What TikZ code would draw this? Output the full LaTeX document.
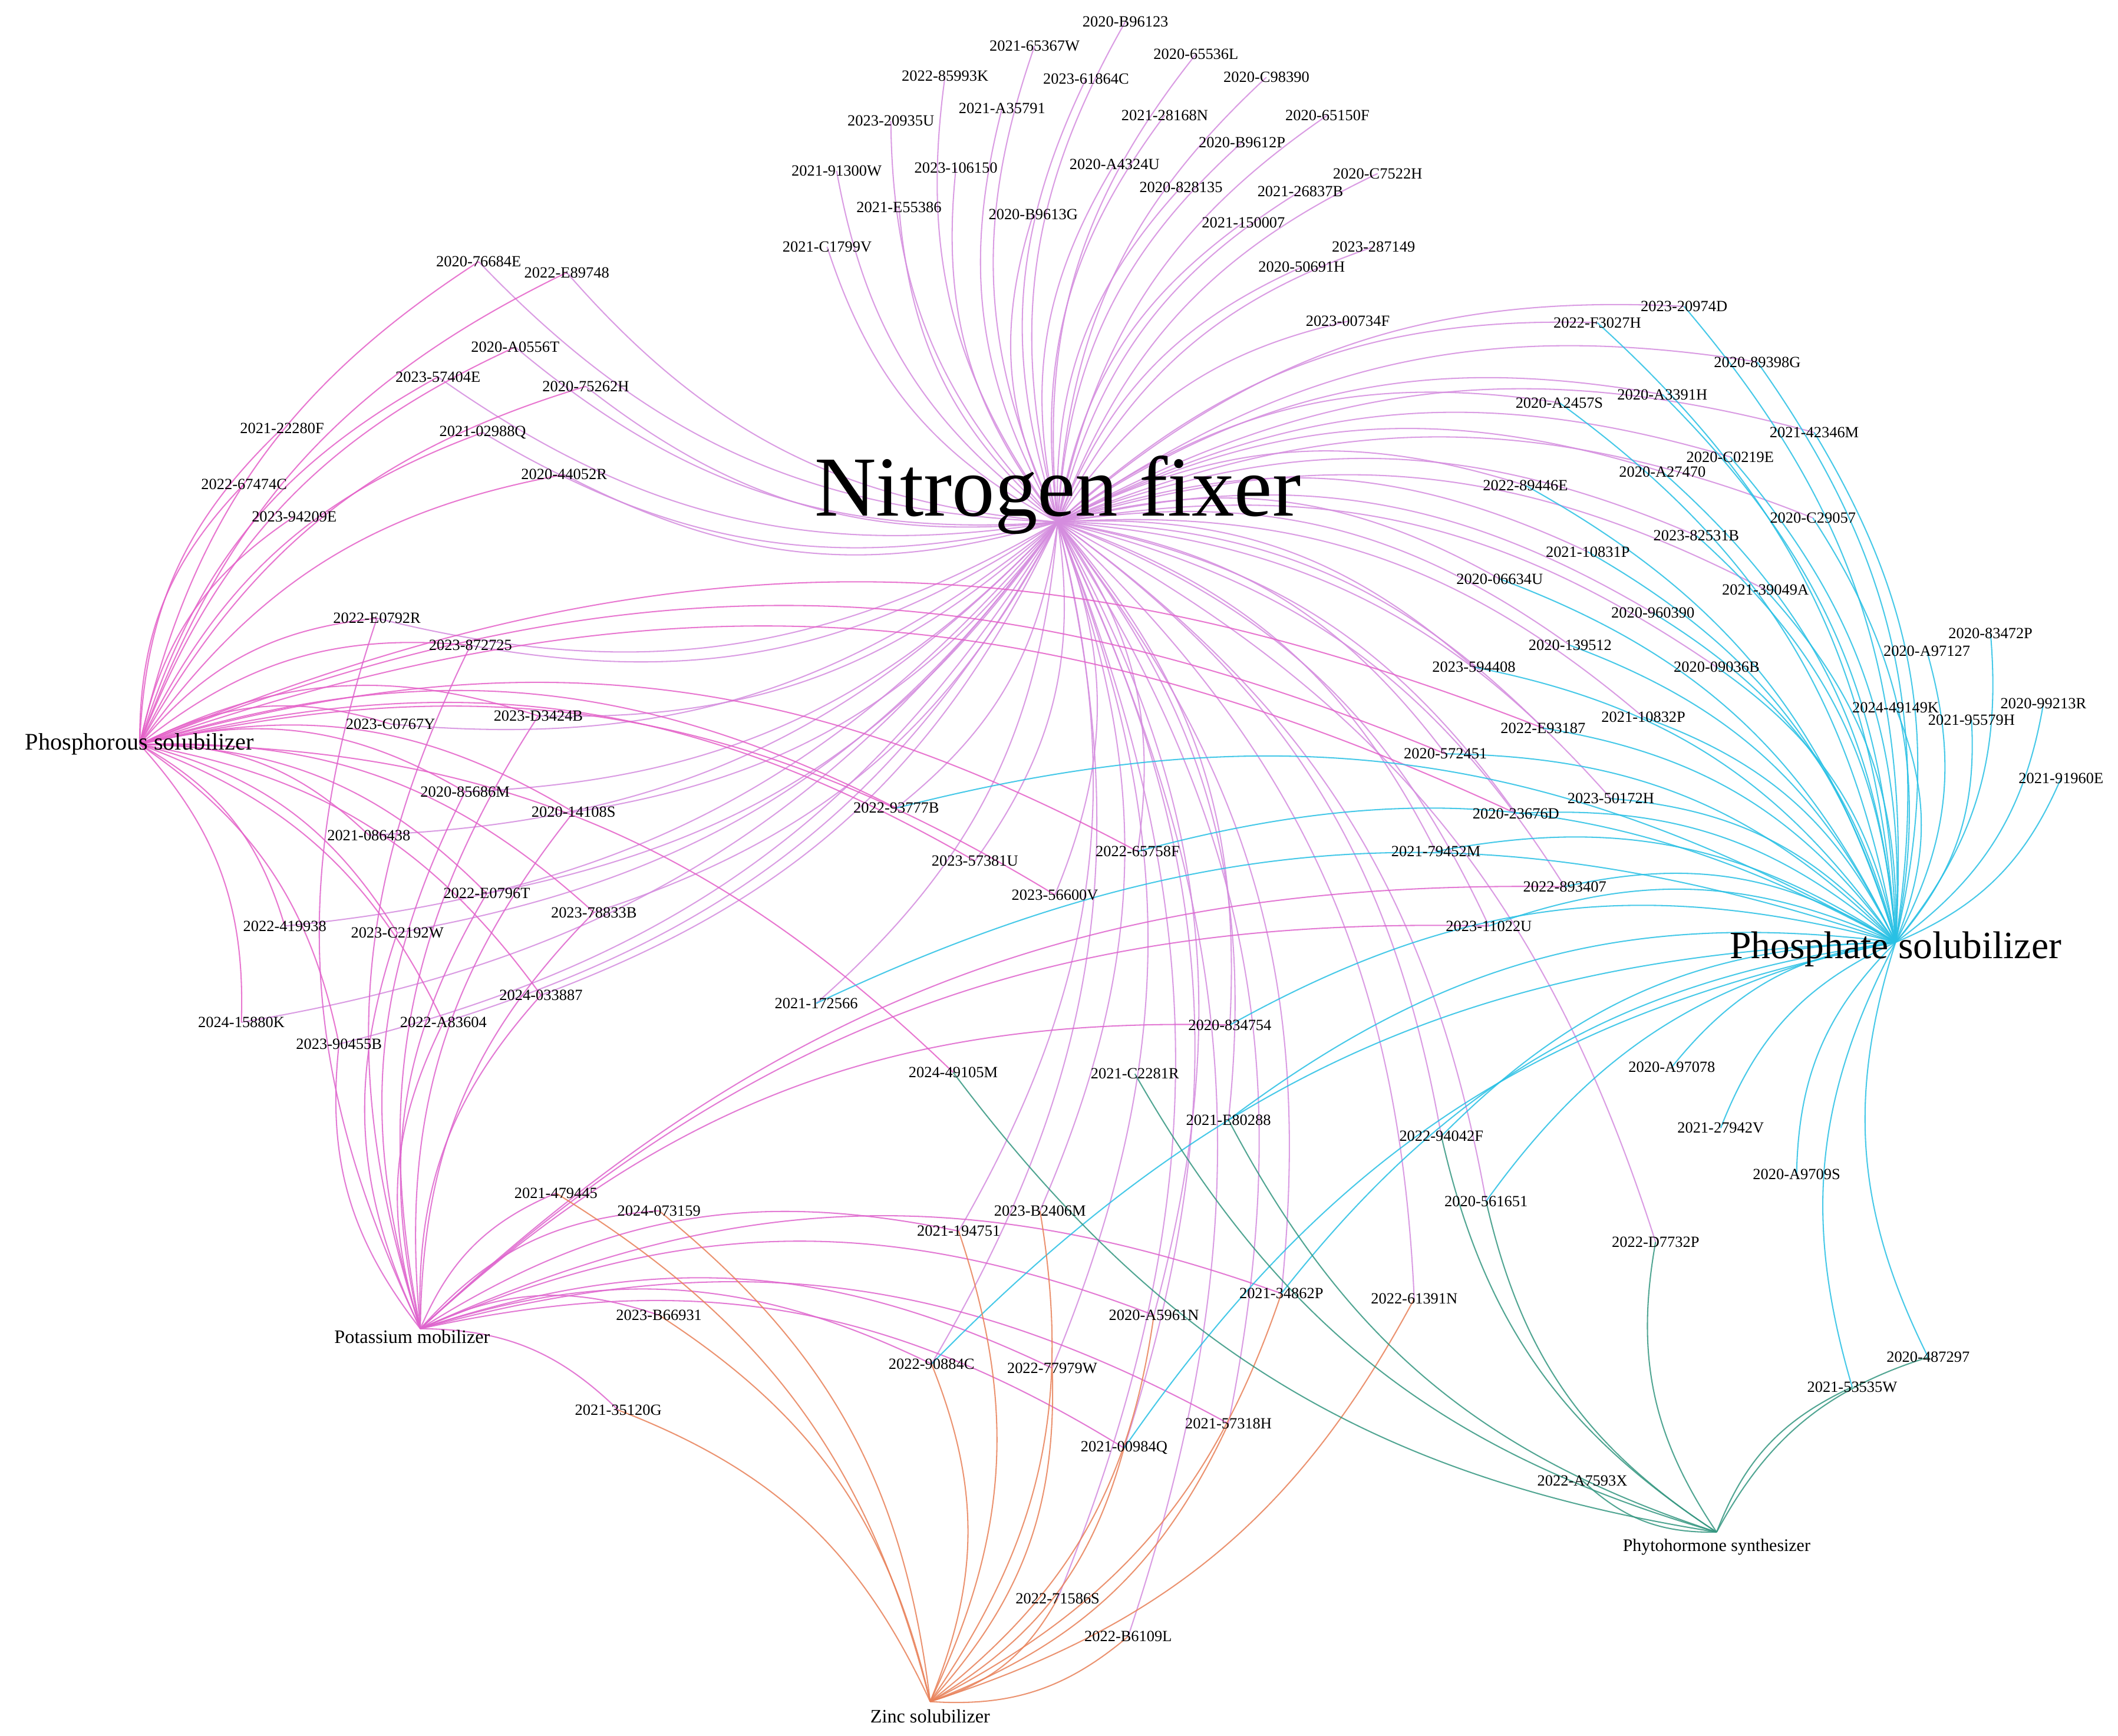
\documentclass[tikz,border=0pt]{standalone}
\usepackage{fontspec}
\setmainfont{Liberation Serif}
\begin{document}
\begin{tikzpicture}[x=0.1pt,y=-0.1pt,
 e/.style={line width=0.09pt,opacity=0.85},
 nf/.style={e,draw={rgb,255:red,212;green,140;blue,222}},
 ps/.style={e,draw={rgb,255:red,228;green,96;blue,200}},
 km/.style={e,draw={rgb,255:red,222;green,100;blue,205}},
 ph/.style={e,draw={rgb,255:red,40;green,192;blue,228}},
 zn/.style={e,draw={rgb,255:red,232;green,128;blue,88}},
 hy/.style={e,draw={rgb,255:red,52;green,150;blue,128}},
 lbl/.style={font=\fontsize{1.15}{1.3}\selectfont,inner sep=0pt},
 hub/.style={inner sep=0pt}]
\useasboundingbox (0,0) rectangle (1562,1280);
\coordinate (N) at (780,385);
\coordinate (PS) at (103,549);
\coordinate (PH) at (1398,695);
\coordinate (K) at (310,980);
\coordinate (ZN) at (686,1255);
\coordinate (HY) at (1266,1130);
\def\leaves{t1/830/16/2020-B96123,t2/763/34/2021-65367W,t3/882/40/2020-65536L,t4/697/56/2022-85993K,t5/801/58/2023-61864C,t6/934/57/2020-C98390,t7/739/80/2021-A35791,t8/657/89/2023-20935U,t9/859/85/2021-28168N,t10/979/85/2020-65150F,t11/916/105/2020-B9612P,t12/617/126/2021-91300W,t13/705/124/2023-106150,t14/822/121/2020-A4324U,t15/871/138/2020-828135,t16/959/141/2021-26837B,t17/1016/128/2020-C7522H,t18/663/153/2021-E55386,t19/762/158/2020-B9613G,t20/917/164/2021-150007,t21/610/182/2021-C1799V,t22/1013/182/2023-287149,t23/960/197/2020-50691H,t24/994/237/2023-00734F,
l1/353/193/2020-76684E,l2/418/201/2022-E89748,l3/380/256/2020-A0556T,l4/323/278/2023-57404E,l5/432/285/2020-75262H,l6/356/319/2021-02988Q,l7/416/350/2020-44052R,
p1/208/316/2021-22280F,p2/180/357/2022-67474C,p3/217/381/2023-94209E,
r1/1242/226/2023-20974D,r2/1178/238/2022-F3027H,r3/1296/267/2020-89398G,r4/1150/297/2020-A2457S,r5/1226/291/2020-A3391H,r6/1338/319/2021-42346M,r7/1276/337/2020-C0219E,r8/1226/348/2020-A27470,r9/1125/358/2022-89446E,r10/1337/382/2020-C29057,r11/1251/395/2023-82531B,r12/1171/407/2021-10831P,r13/1302/435/2021-39049A,r14/1106/427/2020-06634U,r15/1219/452/2020-960390,r16/1158/476/2020-139512,r17/1266/492/2020-09036B,r18/1087/492/2023-594408,
q1/1468/467/2020-83472P,q2/1421/480/2020-A97127,q3/1507/519/2020-99213R,q4/1398/522/2024-49149K,q5/1454/531/2021-95579H,q6/1520/574/2021-91960E,
m1/278/456/2022-E0792R,m2/347/476/2023-872725,m3/288/534/2023-C0767Y,m4/397/528/2023-D3424B,m5/343/584/2020-85686M,m6/423/599/2020-14108S,m7/272/616/2021-086438,m8/359/659/2022-E0796T,m9/438/673/2023-78833B,m10/210/683/2022-419938,m11/293/688/2023-C2192W,m12/399/734/2024-033887,m13/178/754/2024-15880K,m14/250/770/2023-90455B,m15/327/754/2022-A83604,
s1/1138/537/2022-E93187,s2/1212/529/2021-10832P,s3/1066/556/2020-572451,s4/1188/589/2023-50172H,s5/1118/600/2020-23676D,s6/1059/628/2021-79452M,s7/661/596/2022-93777B,s8/839/628/2022-65758F,s9/719/635/2023-57381U,s10/778/660/2023-56600V,
c1/1154/654/2022-893407,c2/1098/683/2023-11022U,c3/602/740/2021-172566,c4/907/756/2020-834754,
h1/703/791/2024-49105M,h2/837/792/2021-C2281R,h3/906/826/2021-E80288,h4/1063/838/2022-94042F,h5/1096/886/2020-561651,h6/1221/916/2022-D7732P,
g1/1233/787/2020-A97078,g2/1269/832/2021-27942V,g3/1325/866/2020-A9709S,g4/1422/1001/2020-487297,g5/1366/1023/2021-53535W,g6/1167/1092/2022-A7593X,
z1/410/880/2021-479445,z2/486/893/2024-073159,z3/486/970/2023-B66931,z4/456/1040/2021-35120G,
y1/707/908/2021-194751,y2/767/893/2023-B2406M,y3/687/1006/2022-90884C,y4/776/1009/2022-77979W,y5/851/970/2020-A5961N,y6/945/954/2021-34862P,y7/829/1068/2021-00984Q,y8/906/1050/2021-57318H,y9/1043/958/2022-61391N,y10/780/1179/2022-71586S,y11/832/1207/2022-B6109L}
\foreach \n/\x/\y/\t in \leaves {\coordinate (\n) at (\x,\y);}
\foreach \n in {t1,t2,t3,t4,t5,t6,t7,t8,t9,t10,t11,t12,t13,t14,t15,t16,t17,t18,t19,t20,t21,t22,t23,t24,l1,l2,l3,l4,l5,l6,l7,r1,r2,r3,r4,r5,r6,r7,r8,r9,r10,r11,r12,r13,r14,r15,r16,r17,r18,m1,m2,m3,m4,m5,m6,m7,m8,m9,m10,m11,m12,m13,m14,m15,s1,s2,s3,s4,s5,s6,s7,s8,s9,s10,c1,c2,c3,c4,h3,h4,h5,h6,y1,y2,y3,y4,y5,y6,y7,y8,y9,y10,y11}
  \draw[nf] (N) to[bend left=22] (\n);
\foreach \n in {p1,p2,p3,l1,l2,l3,l4,l5,l6,l7,m1,m2,m3,m4,m5,m6,m7,m8,m9,m10,m11,m12,m13,m14,m15,s1,s3,s5,s7,s8,s9,s10,h1}
  \draw[ps] (PS) to[bend left=22] (\n);
\foreach \n in {m1,m2,m4,m5,m6,m8,m9,m11,m12,m14,m15,c1,c2,c4,z1,z2,z3,z4,y1,y3,y4,y5,y6,y7,y8}
  \draw[km] (K) to[bend left=22] (\n);
\foreach \n in {r1,r2,r3,r4,r5,r6,r7,r8,r9,r10,r11,r12,r13,r14,r15,r16,r17,r18,q1,q2,q3,q4,q5,q6,s1,s2,s3,s4,s5,s6,s7,s8,c1,c2,c3,c4,h3,h4,h5,g1,g2,g3,g4,g5,y3,y6,y7}
  \draw[ph] (PH) to[bend right=22] (\n);
\foreach \n in {z1,z2,z3,z4,y1,y2,y3,y4,y5,y6,y7,y8,y9,y10,y11}
  \draw[zn] (ZN) to[bend right=22] (\n);
\foreach \n in {h1,h2,h3,h4,h5,h6,g4,g5,g6}
  \draw[hy] (HY) to[bend left=22] (\n);
\foreach \n/\x/\y/\t in \leaves {\node[lbl] (L\n) at (\n) {\t};}
\node[hub,font=\fontsize{6.3}{6.6}\selectfont] (Nl) at (780,365) {Nitrogen fixer};
\node[hub,font=\fontsize{1.75}{2}\selectfont] (PSl) at (103,549) {Phosphorous solubilizer};
\node[hub,font=\fontsize{2.85}{3.1}\selectfont] (PHl) at (1398,700) {Phosphate solubilizer};
\node[hub,font=\fontsize{1.4}{1.5}\selectfont] (Kl) at (304,986) {Potassium mobilizer};
\node[hub,font=\fontsize{1.4}{1.5}\selectfont] (ZNl) at (686,1266) {Zinc solubilizer};
\node[hub,font=\fontsize{1.3}{1.4}\selectfont] (HYl) at (1266,1141) {Phytohormone synthesizer};
\end{tikzpicture}
\end{document}
